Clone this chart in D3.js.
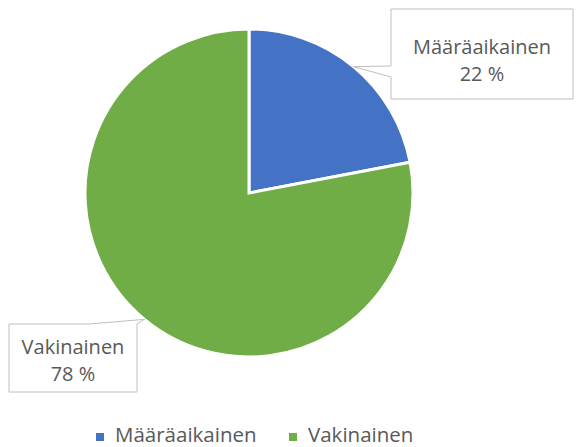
<!DOCTYPE html>
<html>
<head>
<meta charset="utf-8">
<script src="https://cdn.jsdelivr.net/npm/d3@7"></script>
<style>
  body { margin: 0; background: #fff; }
  text { font-family: "Open Sans", "Noto Sans", sans-serif; fill: #595959; }
</style>
</head>
<body>
<svg id="chart"></svg>
<script>
// Data
const categories = ["Määräaikainen", "Vakinainen"];
const shares = [22, 78];
const colors = ["#4472C4", "#70AD47"];

const width = 576;
const height = 447;
const cx = 249;
const cy = 193;
const radius = 164;

const svg = d3.select("#chart")
  .attr("width", width)
  .attr("height", height);

const color = d3.scaleOrdinal().domain(categories).range(colors);

const pie = d3.pie().sort(null).value(d => d.value);
const arcs = pie(categories.map((c, i) => ({ name: c, value: shares[i] })));

const arc = d3.arc().innerRadius(0).outerRadius(radius);

const g = svg.append("g").attr("transform", `translate(${cx},${cy})`);

g.selectAll("path.slice")
  .data(arcs)
  .enter()
  .append("path")
  .attr("class", "slice")
  .attr("d", arc)
  .attr("fill", d => color(d.data.name))
  .attr("stroke", "#fff")
  .attr("stroke-width", 3)
  .attr("stroke-linejoin", "miter");

// Callout boxes (pointer tip sits on the slice edge at its mid angle)
const callouts = [
  { x: 391, y: 9, w: 182, h: 90, side: "left", a: 57, b: 68, y1: 54, y2: 81 },
  { x: 9, y: 324, w: 128, h: 68, side: "top", a: 80, b: 128, y1: 354, y2: 381 }
];

function tip(d) {
  const mid = (d.startAngle + d.endAngle) / 2;
  return [cx + radius * Math.sin(mid), cy - radius * Math.cos(mid)];
}

arcs.forEach((d, i) => {
  const c = callouts[i];
  const [tx, ty] = tip(d);
  let p;
  if (c.side === "left") {
    p = [[c.x, c.y], [c.x + c.w, c.y], [c.x + c.w, c.y + c.h], [c.x, c.y + c.h],
         [c.x, c.y + c.b], [tx, ty], [c.x, c.y + c.a]];
  } else {
    p = [[c.x, c.y], [c.x + c.a, c.y], [tx, ty], [c.x + c.b, c.y],
         [c.x + c.w, c.y], [c.x + c.w, c.y + c.h], [c.x, c.y + c.h]];
  }
  svg.append("path")
    .attr("d", "M" + p.map(q => q.join(",")).join("L") + "Z")
    .attr("fill", "#fff")
    .attr("stroke", "#BFBFBF")
    .attr("stroke-width", 1);

  const mx = c.x + c.w / 2;
  const lines = [[d.data.name, c.y1], [d.data.value + " %", c.y2]];
  lines.forEach(([s, y]) => {
    svg.append("text")
      .attr("x", mx)
      .attr("y", y)
      .attr("text-anchor", "middle")
      .style("font-size", "20px")
      .text(s);
  });
});

// Legend
const legendX = [96, 289];
const legend = svg.selectAll("g.legend")
  .data(categories)
  .enter()
  .append("g")
  .attr("class", "legend")
  .attr("transform", (d, i) => `translate(${legendX[i]},442)`);

legend.append("rect")
  .attr("x", 0)
  .attr("y", -9)
  .attr("width", 8)
  .attr("height", 8)
  .attr("fill", d => color(d));

legend.append("text")
  .attr("x", 19)
  .attr("y", 0)
  .style("font-size", "20.5px")
  .text(d => d);
</script>
</body>
</html>
